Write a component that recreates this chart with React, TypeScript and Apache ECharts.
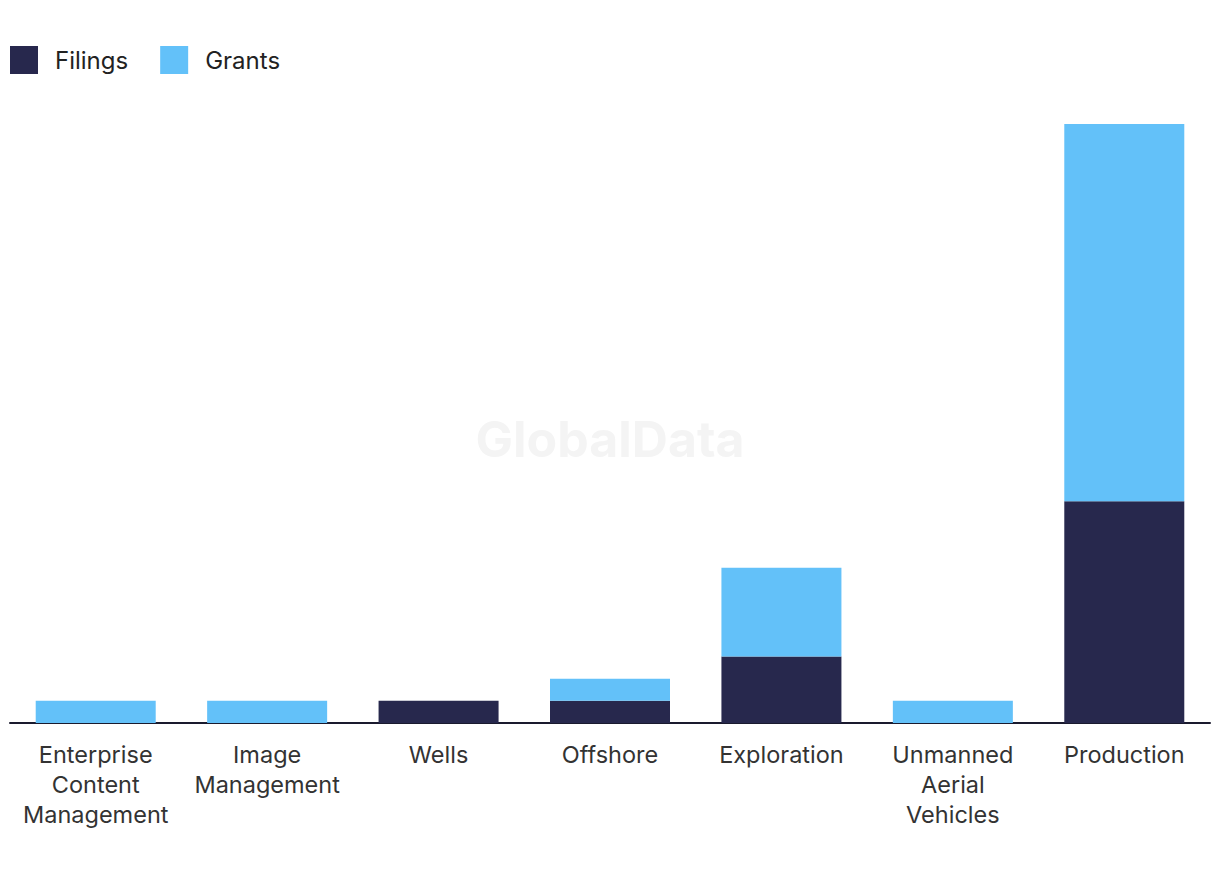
import React, { useEffect, useRef } from "react";
import * as echarts from "echarts";

const categories = [
  "Enterprise\nContent\nManagement",
  "Image\nManagement",
  "Wells",
  "Offshore",
  "Exploration",
  "Unmanned\nAerial\nVehicles",
  "Production",
];
const filings = [0, 0, 1, 1, 3, 0, 10];
const grants = [1, 1, 0, 1, 4, 1, 17];

const FONT = "Inter, 'Open Sans', sans-serif";

export default function App() {
  const ref = useRef<HTMLDivElement>(null);
  useEffect(() => {
    if (!ref.current) return;
    const chart = echarts.init(ref.current, undefined, { renderer: "svg" });
    chart.setOption({
      animation: false,
      backgroundColor: "#ffffff",
      graphic: [
        {
          type: "text",
          left: "center",
          top: 414,
          style: {
            text: "GlobalData",
            font: `bold 50px ${FONT}`,
            fill: "#f4f4f4",
          },
          z: 0,
        },
      ],
      legend: {
        left: 10,
        top: 46,
        padding: 0,
        itemWidth: 28,
        itemHeight: 28,
        itemGap: 32,
        icon: "rect",
        textStyle: { fontSize: 24, color: "#222222", fontFamily: FONT, padding: [0, 0, 4, 12] },
        data: ["Filings", "Grants"],
      },
      grid: { left: 10, right: 10, top: 124, bottom: 157, containLabel: false },
      xAxis: {
        type: "category",
        data: categories,
        axisLine: { lineStyle: { color: "#1a1a2e", width: 2 } },
        axisTick: { show: false },
        axisLabel: {
          fontSize: 23.5,
          color: "#333333",
          fontFamily: FONT,
          lineHeight: 30,
          margin: 16,
          interval: 0,
        },
      },
      yAxis: {
        type: "value",
        min: 0,
        max: 27,
        show: false,
        splitLine: { show: false },
      },
      series: [
        {
          name: "Filings",
          type: "bar",
          stack: "total",
          data: filings,
          barWidth: 120,
          itemStyle: { color: "#27284d" },
          z: 2,
        },
        {
          name: "Grants",
          type: "bar",
          stack: "total",
          data: grants,
          barWidth: 120,
          itemStyle: { color: "#63c1f9" },
          z: 2,
        },
      ],
    });
    return () => chart.dispose();
  }, []);
  return (
    <div
      ref={ref}
      style={{ position: "fixed", left: 0, top: 0, width: 1220, height: 880 }}
    />
  );
}
